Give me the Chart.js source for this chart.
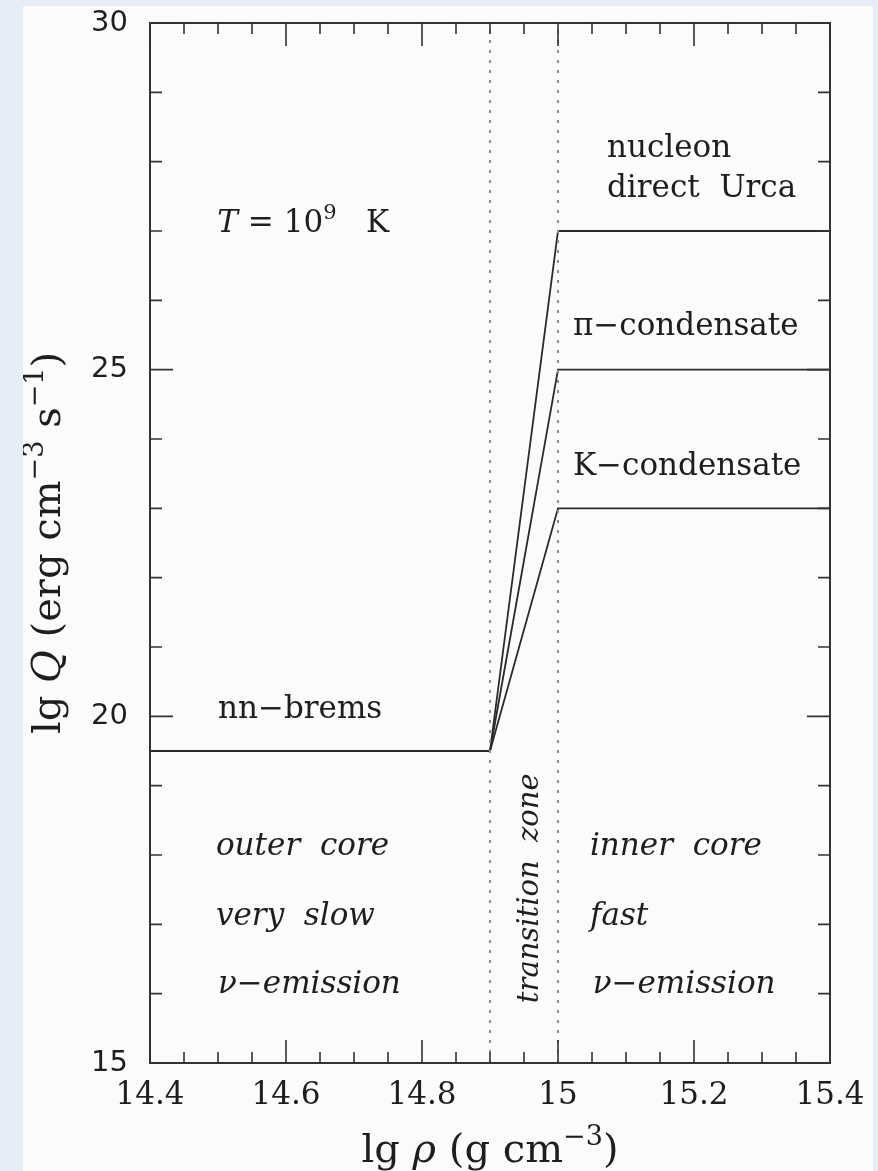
<!doctype html>
<html>
<head>
<title>Neutrino emissivity</title>
<script src="https://cdn.jsdelivr.net/npm/chart.js@4.4.0/dist/chart.umd.min.js"></script>
<style>
	body { margin: 0; background: #e6edf6; width: 878px; height: 1171px; overflow: hidden; }
	#wrap { position: absolute; left: 23px; top: 6px; width: 850px; height: 1165px; background: #fbfbfb; }
	canvas { display: block; }
</style>
</head>
<body>
<div id="wrap"><canvas id="canvas" width="850" height="1165"></canvas></div>
<script>
// lg rho (g cm^-3) and lg Q (erg cm^-3 s^-1)
var xTicks = [14.4, 14.6, 14.8, 15, 15.2, 15.4];
var yTicks = [15, 20, 25, 30];

var rhoSlow = [14.4, 14.9];
var qBrems = [19.5, 19.5];

var rhoFast = [14.9, 15.0, 15.4];
var qUrca = [19.5, 27, 27];
var qPion = [19.5, 25, 25];
var qKaon = [19.5, 23, 23];

var zoneEdges = [14.9, 15.0];
var qRange = [15, 30];

function pts(xs, ys) {
	return xs.map(function(x, i) { return { x: x, y: ys[i] }; });
}

var serif = '"DejaVu Serif", serif';
var sans = '"DejaVu Sans", sans-serif';
var ink = '#2a2a2a';

// text notes placed in data coordinates: [parts, x, y]
var notes = [
	[[{ t: 'nucleon' }], 15.072, 28.07],
	[[{ t: 'direct  Urca' }], 15.072, 27.49],
	[[{ t: '\u03c0\u2212condensate' }], 15.022, 25.5],
	[[{ t: 'K\u2212condensate' }], 15.022, 23.48],
	[[{ t: 'T', it: true }, { t: ' = 10' }, { t: '9', sup: true }, { t: '   K' }], 14.499, 26.99],
	[[{ t: 'nn\u2212brems' }], 14.5, 19.98],
	[[{ t: 'outer  core', it: true }], 14.497, 18.0],
	[[{ t: 'very  slow', it: true }], 14.497, 16.99],
	[[{ t: '\u03bd\u2212emission', it: true }], 14.5, 16.01],
	[[{ t: 'inner  core', it: true }], 15.047, 18.0],
	[[{ t: 'fast', it: true }], 15.047, 16.99],
	[[{ t: '\u03bd\u2212emission', it: true }], 15.051, 16.01]
];

function partFont(p, size) {
	return (p.it ? 'italic ' : '') + Math.round(p.sup ? size * 0.68 : size) + 'px ' + serif;
}

function richWidth(ctx, parts, size) {
	var w = 0;
	parts.forEach(function(p) {
		ctx.font = partFont(p, size);
		w += ctx.measureText(p.t).width;
	});
	return w;
}

function drawRich(ctx, parts, x, y, size, align) {
	var w = richWidth(ctx, parts, size);
	var cx = align === 'center' ? x - w / 2 : x;
	ctx.textAlign = 'left';
	ctx.textBaseline = 'alphabetic';
	parts.forEach(function(p) {
		ctx.font = partFont(p, size);
		ctx.fillText(p.t, cx, p.sup ? y - size * 0.42 : y);
		cx += ctx.measureText(p.t).width;
	});
}

var framePlugin = {
	id: 'frame',
	afterDraw: function(chart) {
		var ctx = chart.ctx;
		var ca = chart.chartArea;
		var xs = chart.scales.x;
		var ys = chart.scales.y;
		ctx.save();
		ctx.strokeStyle = '#333';
		ctx.lineWidth = 2;
		ctx.strokeRect(ca.left, ca.top, ca.right - ca.left, ca.bottom - ca.top);

		// inward ticks on all four sides
		ctx.lineWidth = 1.6;
		ctx.beginPath();
		for (var i = 0; i <= 20; i++) {
			var px = xs.getPixelForValue(14.4 + i * 0.05);
			var len = i % 4 === 0 ? 23 : 11;
			ctx.moveTo(px, ca.bottom); ctx.lineTo(px, ca.bottom - len);
			ctx.moveTo(px, ca.top); ctx.lineTo(px, ca.top + len);
		}
		for (var v = 15; v <= 30; v++) {
			var py = ys.getPixelForValue(v);
			var l2 = v % 5 === 0 ? 23 : 12;
			ctx.moveTo(ca.left, py); ctx.lineTo(ca.left + l2, py);
			ctx.moveTo(ca.right, py); ctx.lineTo(ca.right - l2, py);
		}
		ctx.stroke();

		ctx.fillStyle = '#1e1e1e';
		notes.forEach(function(n) {
			drawRich(ctx, n[0], xs.getPixelForValue(n[1]), ys.getPixelForValue(n[2]), 31, 'left');
		});

		// rotated zone label
		ctx.save();
		ctx.translate(xs.getPixelForValue(14.97), ys.getPixelForValue(17.52));
		ctx.rotate(-Math.PI / 2);
		drawRich(ctx, [{ t: 'transition  zone', it: true }], 0, 0, 29, 'center');
		ctx.restore();

		// axis titles
		drawRich(ctx, [{ t: 'lg ' }, { t: '\u03c1', it: true }, { t: ' (g cm' }, { t: '\u22123', sup: true }, { t: ')' }],
			(ca.left + ca.right) / 2, 1156, 40, 'center');
		ctx.save();
		ctx.translate(37, (ca.top + ca.bottom) / 2);
		ctx.rotate(-Math.PI / 2);
		drawRich(ctx, [{ t: 'lg ' }, { t: 'Q', it: true }, { t: ' (erg cm' }, { t: '\u22123', sup: true }, { t: ' s' }, { t: '\u22121', sup: true }, { t: ')' }],
			0, 0, 40, 'center');
		ctx.restore();
		ctx.restore();
	}
};

var lineStyle = { showLine: true, pointRadius: 0, borderColor: ink, borderWidth: 1.8, fill: false, tension: 0 };
var dotStyle = { showLine: true, pointRadius: 0, borderColor: '#8c8c8c', borderWidth: 2, borderDash: [3, 7], fill: false };

var config = {
	type: 'scatter',
	data: {
		datasets: [
			Object.assign({ label: 'zone start', data: pts([zoneEdges[0], zoneEdges[0]], qRange) }, dotStyle),
			Object.assign({ label: 'zone end', data: pts([zoneEdges[1], zoneEdges[1]], qRange) }, dotStyle),
			Object.assign({ label: 'nn-brems', data: pts(rhoSlow, qBrems) }, lineStyle),
			Object.assign({ label: 'nucleon direct Urca', data: pts(rhoFast, qUrca) }, lineStyle),
			Object.assign({ label: 'pi-condensate', data: pts(rhoFast, qPion) }, lineStyle),
			Object.assign({ label: 'K-condensate', data: pts(rhoFast, qKaon) }, lineStyle)
		]
	},
	options: {
		responsive: false,
		animation: false,
		devicePixelRatio: 1,
		layout: { padding: { left: 0, top: 17, right: 43, bottom: 0 } },
		plugins: { legend: { display: false }, tooltip: { enabled: false } },
		scales: {
			x: {
				type: 'linear',
				min: 14.4,
				max: 15.4,
				afterBuildTicks: function(s) { s.ticks = xTicks.map(function(v) { return { value: v }; }); },
				afterFit: function(s) { s.height = 108; s.paddingLeft = 0; s.paddingRight = 0; },
				grid: { display: false, drawTicks: false },
				border: { display: false },
				ticks: {
					autoSkip: false,
					maxRotation: 0,
					padding: 14,
					color: '#1e1e1e',
					font: { family: serif, size: 31 },
					callback: function(v) { return String(Math.round(v * 10) / 10); }
				}
			},
			y: {
				type: 'linear',
				min: 15,
				max: 30,
				afterBuildTicks: function(s) { s.ticks = yTicks.map(function(v) { return { value: v }; }); },
				afterFit: function(s) { s.width = 127; s.paddingTop = 0; s.paddingBottom = 0; },
				grid: { display: false, drawTicks: false },
				border: { display: false },
				ticks: {
					padding: 22,
					color: '#1e1e1e',
					font: { family: sans, size: 29 },
					callback: function(v) { return String(v); }
				}
			}
		}
	},
	plugins: [framePlugin]
};

window.myChart = new Chart(document.getElementById('canvas'), config);
</script>
</body>
</html>
